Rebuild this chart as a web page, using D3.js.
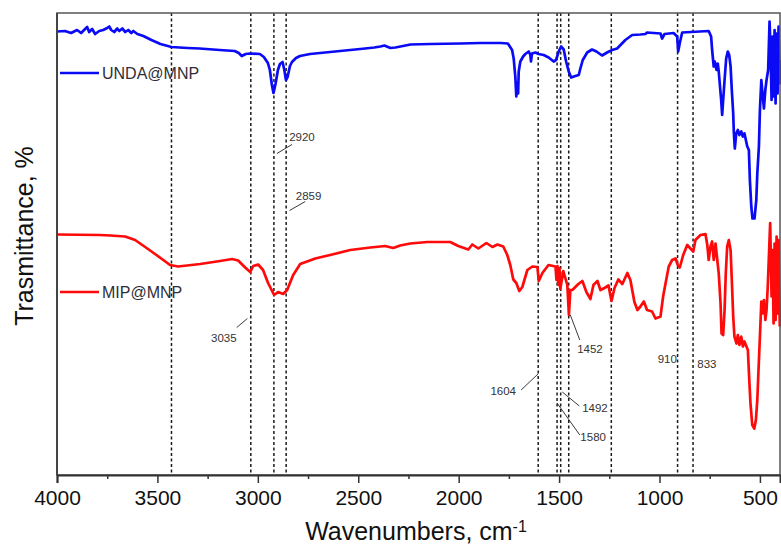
<!DOCTYPE html>
<html>
<head>
<meta charset="utf-8">
<script src="https://cdn.jsdelivr.net/npm/d3@7"></script>
<style>
  body { margin: 0; background: #fff; }
  svg { display: block; font-family: 'Liberation Sans', Arial, sans-serif; }
</style>
</head>
<body>
<svg id="chart" width="781" height="547"></svg>
<script>
// Spectre UNDA@MNP : [nombre d'onde, transmittance (u.a.)]
const undaMnp = [
  [4000, 88.7], [3960, 88.8], [3930, 88.4], [3900, 89.0], [3880, 88.4], [3860, 89.2], [3850, 89.6],
  [3840, 88.6], [3825, 89.2], [3810, 88.2], [3790, 88.8], [3770, 89.0], [3750, 89.4], [3740, 89.7],
  [3730, 89.0], [3715, 88.6], [3700, 89.3], [3690, 88.8], [3675, 89.3], [3660, 88.6], [3645, 89.0],
  [3630, 88.4], [3620, 88.8], [3600, 88.2], [3570, 87.8], [3530, 87.0], [3485, 86.2], [3430, 85.6],
  [3350, 85.4], [3290, 85.3], [3190, 85.0], [3115, 84.8], [3095, 84.4], [3080, 83.8], [3060, 84.2],
  [3040, 84.3], [2990, 84.2], [2970, 83.6], [2950, 82.4], [2940, 81.0], [2930, 78.0], [2922, 76.4],
  [2912, 78.2], [2900, 81.0], [2890, 82.2], [2877, 82.6], [2868, 81.0], [2860, 79.0], [2852, 79.6],
  [2840, 81.8], [2830, 82.6], [2810, 83.4], [2790, 83.8], [2740, 84.2], [2690, 84.4], [2590, 84.8],
  [2490, 85.2], [2420, 85.5], [2390, 85.7], [2370, 85.9], [2340, 85.4], [2315, 85.5], [2240, 86.1],
  [2140, 86.2], [1990, 86.3], [1890, 86.4], [1790, 86.4], [1755, 86.3], [1734, 85.0], [1726, 83.3],
  [1721, 81.0], [1718, 79.7], [1713, 75.7], [1709, 78.4], [1704, 76.3], [1701, 80.7], [1693, 82.7],
  [1679, 83.7], [1668, 84.2], [1651, 84.7], [1643, 84.0], [1640, 82.7], [1635, 84.3], [1618, 84.5],
  [1602, 84.2], [1577, 84.0], [1552, 83.5], [1527, 82.7], [1515, 83.0], [1502, 84.7], [1490, 85.7],
  [1477, 85.1], [1465, 82.7], [1452, 80.7], [1440, 79.5], [1419, 79.8], [1402, 80.0], [1394, 81.3],
  [1382, 83.0], [1360, 84.5], [1336, 85.1], [1314, 84.7], [1286, 83.9], [1261, 84.5], [1236, 85.0],
  [1211, 85.3], [1170, 87.0], [1136, 88.0], [1095, 88.1], [1070, 88.2], [1062, 88.5], [995, 88.3],
  [987, 87.3], [975, 88.2], [930, 88.4], [912, 87.7], [907, 84.7], [899, 86.4], [887, 88.5],
  [755, 88.8], [743, 87.7], [738, 85.0], [730, 81.7], [725, 82.7], [716, 81.0], [710, 82.3],
  [705, 80.7], [700, 78.3], [693, 75.0], [688, 72.0], [683, 75.0], [676, 79.0], [668, 83.3],
  [660, 84.7], [653, 84.0], [646, 81.7], [640, 77.0], [633, 72.3], [630, 68.7], [625, 65.3],
  [618, 68.3], [610, 69.0], [602, 68.0], [593, 68.7], [585, 67.7], [577, 68.3], [570, 67.0],
  [563, 65.7], [555, 65.0], [550, 59.0], [543, 53.7], [537, 51.3], [527, 51.3], [518, 55.0],
  [513, 60.3], [505, 65.7], [500, 73.0], [493, 79.0], [487, 76.3], [480, 73.3], [473, 77.0],
  [467, 79.0], [459, 81.0], [452, 90.7], [447, 85.0], [442, 75.0], [437, 87.7], [432, 75.7],
  [427, 89.0], [422, 74.3], [417, 88.3], [412, 76.3], [407, 89.7], [402, 78.3], [400, 83.0]
];

// Spectre MIP@MNP
const mipMnp = [
  [4000, 48.1], [3786, 48.0], [3736, 47.9], [3661, 47.7], [3611, 47.0], [3561, 45.6], [3512, 44.2],
  [3437, 42.0], [3397, 41.7], [3287, 42.2], [3188, 42.8], [3128, 43.2], [3098, 42.9], [3063, 41.5],
  [3038, 40.6], [3023, 41.8], [2998, 42.1], [2974, 41.0], [2949, 38.4], [2919, 36.0], [2899, 36.6],
  [2874, 36.2], [2854, 37.0], [2824, 40.0], [2789, 42.2], [2714, 43.3], [2640, 44.0], [2540, 45.0],
  [2440, 45.5], [2390, 45.7], [2366, 45.8], [2326, 45.4], [2291, 45.9], [2241, 46.3], [2156, 46.6],
  [2042, 46.6], [2002, 45.8], [1952, 45.1], [1932, 46.1], [1902, 45.3], [1862, 46.4], [1832, 45.6],
  [1807, 46.1], [1778, 45.7], [1758, 44.0], [1743, 42.0], [1728, 39.1], [1713, 38.4], [1698, 36.8],
  [1683, 37.6], [1658, 41.0], [1633, 41.7], [1608, 41.6], [1601, 38.8], [1583, 40.4], [1553, 42.0],
  [1518, 41.7], [1513, 39.0], [1508, 41.8], [1503, 38.0], [1498, 41.4], [1494, 37.2], [1479, 40.8],
  [1459, 38.0], [1451, 32.0], [1444, 37.0], [1434, 37.0], [1404, 38.2], [1384, 38.8], [1364, 36.6],
  [1344, 35.2], [1329, 38.0], [1309, 38.8], [1294, 37.0], [1274, 37.4], [1254, 37.9], [1239, 34.8],
  [1224, 37.4], [1205, 39.1], [1185, 38.2], [1160, 40.4], [1145, 39.0], [1125, 34.6], [1110, 33.0],
  [1095, 33.7], [1078, 34.7], [1062, 33.0], [1037, 32.7], [1020, 31.3], [995, 31.7], [982, 35.7],
  [970, 38.3], [954, 41.7], [937, 43.0], [920, 43.3], [909, 42.0], [899, 41.5], [882, 44.0],
  [862, 46.0], [846, 45.3], [832, 44.7], [821, 47.0], [796, 48.0], [771, 48.2], [762, 46.0],
  [755, 43.0], [746, 45.7], [738, 46.7], [730, 43.0], [721, 46.3], [713, 43.3], [705, 40.3],
  [696, 34.3], [691, 28.3], [683, 28.0], [676, 33.0], [670, 40.3], [663, 45.7], [655, 47.0],
  [646, 45.0], [640, 39.0], [633, 31.7], [627, 27.7], [617, 26.3], [610, 28.0], [602, 26.0],
  [593, 27.7], [585, 25.7], [577, 26.7], [567, 25.7], [560, 25.0], [553, 19.0], [547, 14.3],
  [538, 10.0], [528, 9.3], [520, 11.0], [513, 15.0], [507, 21.0], [500, 27.7], [493, 34.7],
  [487, 32.3], [480, 35.0], [473, 31.0], [467, 33.0], [461, 37.7], [454, 45.0], [449, 50.4],
  [442, 35.7], [437, 45.0], [432, 30.3], [427, 46.3], [422, 31.0], [417, 47.7], [412, 32.3],
  [407, 47.0], [401, 29.7]
];

// Lignes verticales des pics
const peakLines = [3430, 3035, 2920, 2859, 1604, 1510, 1492, 1452, 1240, 910, 833];

// Étiquettes des pics : texte, position du texte, trait de rappel
const peakNotes = [
  { label: '2920', x: 2844, y: 66.8, lead: [2905, 64.3, 2830, 66.1] },
  { label: '2859', x: 2811, y: 55.0, lead: [2842, 52.9, 2764, 54.7] },
  { label: '3035', x: 3233, y: 26.6, lead: [3105, 29.5, 3052, 31.3] },
  { label: '1604', x: 1842, y: 16.0, lead: [1689, 17.0, 1605, 20.2] },
  { label: '1452', x: 1410, y: 24.4, lead: [1444, 32.0, 1397, 27.0] },
  { label: '910', x: 1009, y: 22.4, lead: null },
  { label: '833', x: 812, y: 21.5, lead: null },
  { label: '1492', x: 1385, y: 12.7, lead: [1484, 16.6, 1399, 13.8] },
  { label: '1580', x: 1394, y: 6.9, lead: [1510, 14.4, 1397, 8.0] }
];

const xTicks = [4000, 3500, 3000, 2500, 2000, 1500, 1000, 500];
const xMinorTicks = [3750, 3250, 2750, 2250, 1750, 1250, 750];
const seriesNames = ['UNDA@MNP', 'MIP@MNP'];
const seriesColors = ['#0a0af5', '#ff0a0a'];

const svg = d3.select('#chart');

const margin = { left: 57, right: 780, top: 13, bottom: 475 };

const x = d3.scaleLinear().domain([4000, 400]).range([margin.left, margin.right]);
const y = d3.scaleLinear().domain([0, 92.4]).range([margin.bottom, margin.top]);

// Lignes pointillées
svg.append('g')
  .selectAll('line')
  .data(peakLines)
  .join('line')
  .attr('x1', (d) => x(d))
  .attr('x2', (d) => x(d))
  .attr('y1', margin.top)
  .attr('y2', margin.bottom)
  .attr('stroke', '#1a1a1a')
  .attr('stroke-width', 1.5)
  .attr('stroke-dasharray', '3,2.5');

// Courbes
const line = d3.line().x((d) => x(d[0])).y((d) => y(d[1]));

[undaMnp, mipMnp].forEach((series, i) => {
  svg.append('path')
    .datum(series)
    .attr('d', line)
    .attr('fill', 'none')
    .attr('stroke', seriesColors[i])
    .attr('stroke-width', 2.7)
    .attr('stroke-linejoin', 'round');
});

// Étiquettes des pics
const notes = svg.append('g');
peakNotes.forEach((n) => {
  if (n.lead) {
    notes.append('line')
      .attr('x1', x(n.lead[0])).attr('y1', y(n.lead[1]))
      .attr('x2', x(n.lead[2])).attr('y2', y(n.lead[3]))
      .attr('stroke', '#222')
      .attr('stroke-width', 0.9);
  }
  notes.append('text')
    .attr('x', x(n.x))
    .attr('y', y(n.y))
    .attr('font-size', '11.5px')
    .attr('fill', '#333')
    .text(n.label);
});

// Légende
const legendY = [73, 292];
seriesNames.forEach((name, i) => {
  svg.append('line')
    .attr('x1', 60).attr('x2', 99)
    .attr('y1', legendY[i]).attr('y2', legendY[i])
    .attr('stroke', seriesColors[i])
    .attr('stroke-width', 2.7);
  svg.append('text')
    .attr('x', 102)
    .attr('y', legendY[i] + 6)
    .attr('font-size', '16px')
    .attr('fill', '#2e2e3a')
    .text(name);
});

// Cadre
svg.append('rect')
  .attr('x', margin.left).attr('y', margin.top)
  .attr('width', margin.right - margin.left).attr('height', margin.bottom - margin.top)
  .attr('fill', 'none')
  .attr('stroke', '#555')
  .attr('stroke-width', 1.5);

// Axe X
const axisX = svg.append('g')
  .attr('transform', `translate(0,${margin.bottom})`)
  .call(d3.axisBottom(x).tickValues(xTicks).tickSize(8).tickPadding(7).tickFormat(d3.format('d')));
axisX.select('.domain').attr('stroke', '#333').attr('stroke-width', 2);
axisX.selectAll('.tick line').attr('stroke', '#333').attr('stroke-width', 1.5);
axisX.selectAll('.tick text')
  .attr('font-size', '21px')
  .attr('font-family', "'Liberation Sans', Arial, sans-serif")
  .attr('fill', '#111');

const minorX = svg.append('g')
  .attr('transform', `translate(0,${margin.bottom})`)
  .call(d3.axisBottom(x).tickValues(xMinorTicks).tickSize(4).tickFormat(''));
minorX.select('.domain').remove();
minorX.selectAll('.tick line').attr('stroke', '#333').attr('stroke-width', 1.5);

// Axe Y (ligne seule)
svg.append('line')
  .attr('x1', margin.left).attr('x2', margin.left)
  .attr('y1', margin.top).attr('y2', margin.bottom)
  .attr('stroke', '#444')
  .attr('stroke-width', 2);

// Titres des axes
const xTitle = svg.append('text')
  .attr('x', 416)
  .attr('y', 540)
  .attr('text-anchor', 'middle')
  .attr('font-size', '25px')
  .attr('fill', '#111');
xTitle.append('tspan').text('Wavenumbers, cm');
xTitle.append('tspan').attr('font-size', '16px').attr('dy', -8).text('-1');

svg.append('text')
  .attr('transform', 'translate(33,236) rotate(-90)')
  .attr('text-anchor', 'middle')
  .attr('font-size', '25px')
  .attr('fill', '#111')
  .text('Trasmittance, %');
</script>
</body>
</html>
